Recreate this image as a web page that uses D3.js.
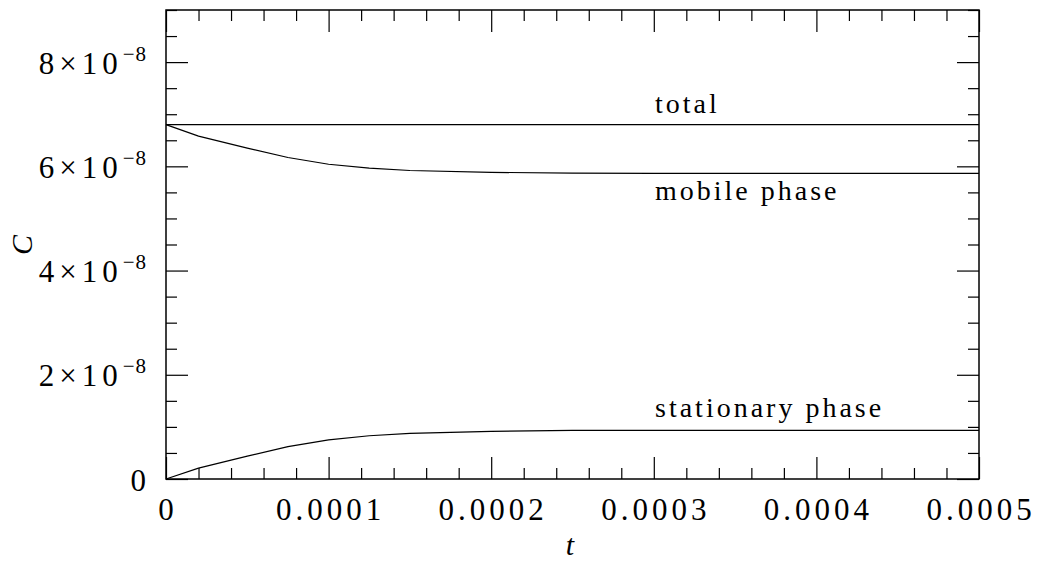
<!DOCTYPE html>
<html>
<head>
<meta charset="utf-8">
<script src="https://cdn.jsdelivr.net/npm/d3@7"></script>
<style>
  html, body { margin: 0; padding: 0; background: #fff; }
  svg { display: block; }
</style>
</head>
<body>
<svg id="chart" width="1038" height="562"></svg>
<script>
// ---- data ----
const tValues = [0, 0.00002, 0.00005, 0.000075, 0.0001, 0.000125, 0.00015, 0.0002, 0.00025, 0.0003, 0.0004, 0.0005];
const totalValues = [6.8e-8, 6.8e-8, 6.8e-8, 6.8e-8, 6.8e-8, 6.8e-8, 6.8e-8, 6.8e-8, 6.8e-8, 6.8e-8, 6.8e-8, 6.8e-8];
const mobileValues = [6.8e-8, 6.58e-8, 6.35e-8, 6.17e-8, 6.04e-8, 5.965e-8, 5.92e-8, 5.885e-8, 5.868e-8, 5.865e-8, 5.865e-8, 5.865e-8];
const stationaryValues = [0, 0.21e-8, 0.44e-8, 0.62e-8, 0.75e-8, 0.83e-8, 0.875e-8, 0.915e-8, 0.932e-8, 0.935e-8, 0.935e-8, 0.935e-8];
const xMajorTicks = [0, 0.0001, 0.0002, 0.0003, 0.0004, 0.0005];
const xTickLabels = ["0", "0.0001", "0.0002", "0.0003", "0.0004", "0.0005"];
const yMajorTicks = [0, 2e-8, 4e-8, 6e-8, 8e-8];
const yTickMantissa = ["0", "2", "4", "6", "8"];
const seriesLabels = ["total", "mobile phase", "stationary phase"];

// ---- layout ----
const svg = d3.select("#chart");
const L = 166, R = 979, T = 10, B = 479;
const x = d3.scaleLinear().domain([0, 0.0005]).range([L, R]);
const y = d3.scaleLinear().domain([0, 9e-8]).range([B, T]);

const xMinor = d3.range(0, 0.0005 + 1e-12, 0.00002).filter(v => !xMajorTicks.some(m => Math.abs(m - v) < 1e-10));
const yMinor = d3.range(0, 9e-8 + 1e-20, 0.5e-8).filter(v => !yMajorTicks.some(m => Math.abs(m - v) < 1e-12));

const MAJ = 22, MIN = 11;
function styleAxis(g) {
  g.select(".domain").remove();
  g.selectAll(".tick line").attr("stroke", "#000").attr("stroke-width", 1.2);
  g.selectAll(".tick text").remove();
}
// bottom
svg.append("g").attr("transform", `translate(0,${B})`)
  .call(d3.axisBottom(x).tickValues(xMajorTicks).tickSize(-MAJ).tickFormat("")).call(styleAxis);
svg.append("g").attr("transform", `translate(0,${B})`)
  .call(d3.axisBottom(x).tickValues(xMinor).tickSize(-MIN).tickFormat("")).call(styleAxis);
// top
svg.append("g").attr("transform", `translate(0,${T})`)
  .call(d3.axisTop(x).tickValues(xMajorTicks).tickSize(-MAJ).tickFormat("")).call(styleAxis);
svg.append("g").attr("transform", `translate(0,${T})`)
  .call(d3.axisTop(x).tickValues(xMinor).tickSize(-MIN).tickFormat("")).call(styleAxis);
// left
svg.append("g").attr("transform", `translate(${L},0)`)
  .call(d3.axisLeft(y).tickValues(yMajorTicks).tickSize(-MAJ).tickFormat("")).call(styleAxis);
svg.append("g").attr("transform", `translate(${L},0)`)
  .call(d3.axisLeft(y).tickValues(yMinor).tickSize(-MIN).tickFormat("")).call(styleAxis);
// right
svg.append("g").attr("transform", `translate(${R},0)`)
  .call(d3.axisRight(y).tickValues(yMajorTicks).tickSize(-MAJ).tickFormat("")).call(styleAxis);
svg.append("g").attr("transform", `translate(${R},0)`)
  .call(d3.axisRight(y).tickValues(yMinor).tickSize(-MIN).tickFormat("")).call(styleAxis);

// frame
svg.append("rect").attr("x", L).attr("y", T).attr("width", R - L).attr("height", B - T)
  .attr("fill", "none").attr("stroke", "#000").attr("stroke-width", 1.5);

// ---- lines ----
const line = d3.line().x(d => x(d[0])).y(d => y(d[1]));
[totalValues, mobileValues, stationaryValues].forEach(vals => {
  svg.append("path")
    .datum(tValues.map((t, i) => [t, vals[i]]))
    .attr("d", line)
    .attr("fill", "none").attr("stroke", "#000").attr("stroke-width", 1.2);
});

// ---- tick labels ----
const FONT = "'Liberation Serif', 'Times New Roman', serif";
const LS = 4;
svg.append("g").selectAll("text").data(xMajorTicks).join("text")
  .attr("x", d => x(d) + LS / 2).attr("y", 520)
  .attr("text-anchor", "middle")
  .attr("font-family", FONT).attr("font-size", 31).attr("letter-spacing", LS)
  .text((d, i) => xTickLabels[i]);

const yl = svg.append("g").selectAll("text").data(yMajorTicks).join("text")
  .attr("x", d => d === 0 ? 146 : 147).attr("y", d => y(d) + 11.5)
  .attr("text-anchor", "end")
  .attr("font-family", FONT).attr("font-size", 31);
yl.each(function(d, i) {
  const t = d3.select(this);
  if (d === 0) { t.text("0"); return; }
  t.append("tspan").attr("letter-spacing", 5).text(yTickMantissa[i] + "\u00d710");
  t.append("tspan").attr("font-size", 21).attr("letter-spacing", 1).attr("dy", -13).text("\u22128");
});

// ---- axis titles ----
svg.append("text").attr("transform", "translate(32,245) rotate(-90)")
  .attr("text-anchor", "middle").attr("font-family", FONT).attr("font-style", "italic")
  .attr("font-size", 30).text("C");
svg.append("text").attr("x", 570).attr("y", 555)
  .attr("text-anchor", "middle").attr("font-family", FONT).attr("font-style", "italic")
  .attr("font-size", 30).text("t");

// ---- annotations ----
const annY = [113, 200, 417];
svg.append("g").selectAll("text").data(seriesLabels).join("text")
  .attr("x", 655).attr("y", (d, i) => annY[i])
  .attr("font-family", FONT).attr("font-size", 28).attr("letter-spacing", 3)
  .text(d => d);
</script>
</body>
</html>
